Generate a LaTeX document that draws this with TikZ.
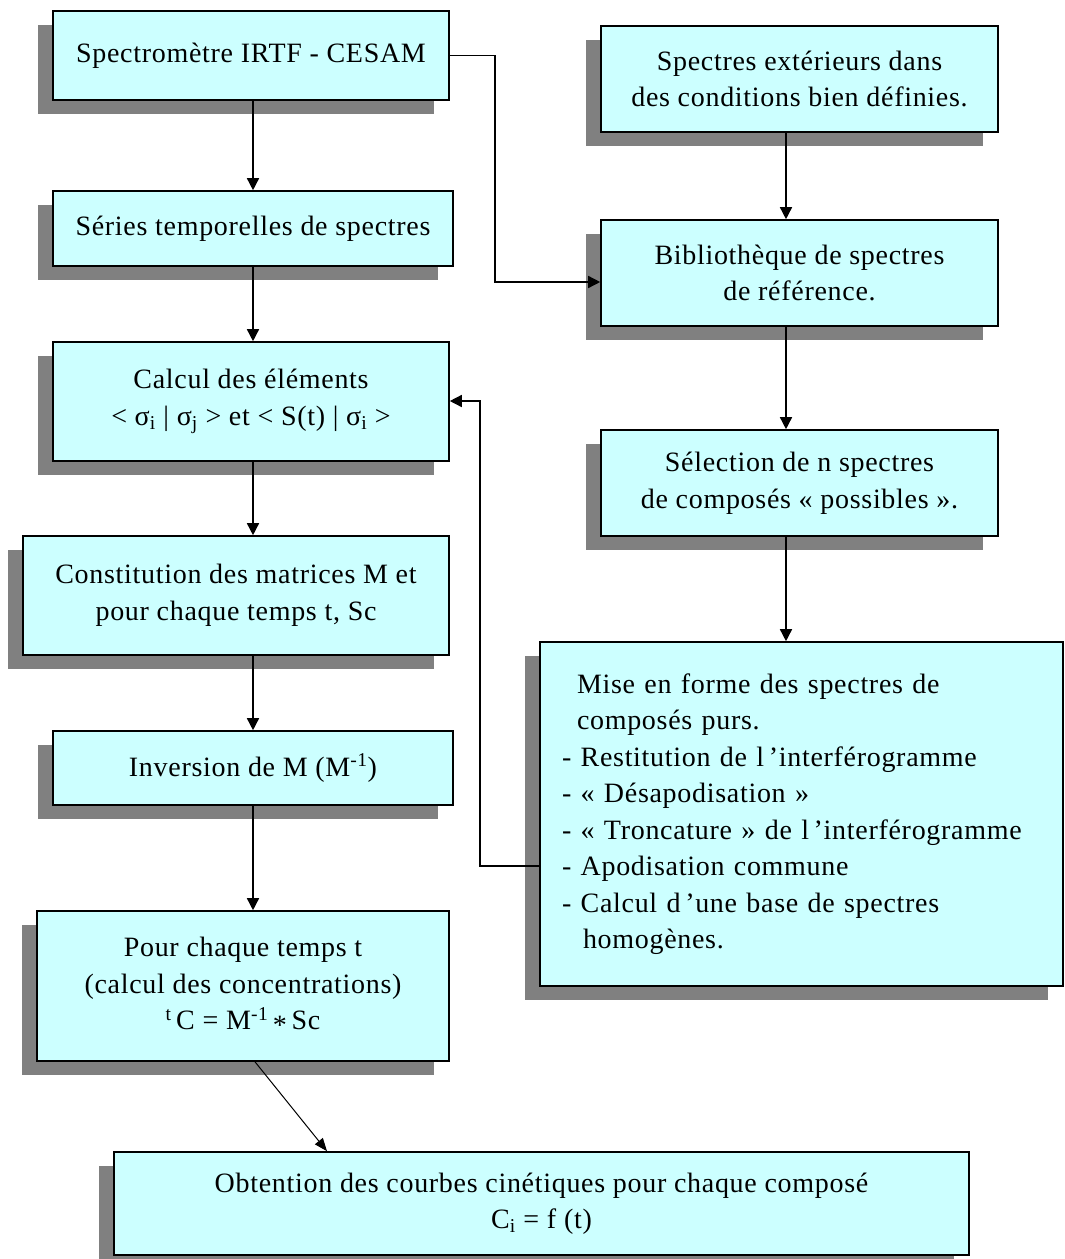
\documentclass[tikz,border=0pt]{standalone}
\usepackage{fontspec}
\setmainfont{Liberation Serif}[LetterSpace=2.5]
\usetikzlibrary{arrows.meta,shadows}
\definecolor{boxfill}{RGB}{204,255,255}
\definecolor{shadowgray}{RGB}{128,128,128}
\begin{document}
\begin{tikzpicture}[x=1pt,y=-1pt,
  box/.style={draw=black, line width=1.6pt, fill=boxfill, inner sep=0pt, align=center,
    font=\fontsize{28}{36.5}\selectfont,
    general shadow={fill=shadowgray, shadow xshift=-15pt, shadow yshift=-14pt}},
  arr/.style={line width=1.5pt, -{Triangle[width=12pt,length=12pt]}},
  thinarr/.style={line width=1pt, -{Triangle[width=10pt,length=13pt]}}]
\useasboundingbox (0,0) rectangle (1065,1259);
\fill[white] (0,0) rectangle (1065,1259);

% left column
\node[box, minimum width=396pt, minimum height=89pt] (n1) at (251,55.5) {Spectromètre IRTF - CESAM};
\node[box, minimum width=400pt, minimum height=75pt] (n2) at (253,228.5) {Séries temporelles de spectres};
\node[box, minimum width=396pt, minimum height=119pt] (n3) at (251,401.5)
  {Calcul des éléments\\< σ\textsubscript{i} | σ\textsubscript{j} > et < S(t) | σ\textsubscript{i} >};
\node[box, minimum width=426pt, minimum height=119pt] (n4) at (236,595.5)
  {Constitution des matrices M et\\pour chaque temps t, Sc};
\node[box, minimum width=400pt, minimum height=74pt] (n5) at (253,768) {Inversion de M (M\textsuperscript{-1})};
\node[box, minimum width=412pt, minimum height=150pt] (n6) at (243,986)
  {Pour chaque temps t\\(calcul des concentrations)\\\textsuperscript{t}\,C = M\textsuperscript{-1}\,\raisebox{-0.35ex}{*}\,Sc};
\node[box, minimum width=855pt, minimum height=103pt] (n7) at (541.5,1203.5)
  {Obtention des courbes cinétiques pour chaque composé\\C\textsubscript{i} = f (t)};

% right column
\node[box, minimum width=397pt, minimum height=106pt] (r1) at (799.5,79)
  {Spectres extérieurs dans\\des conditions bien définies.};
\node[box, minimum width=397pt, minimum height=106pt] (r2) at (799.5,273)
  {Bibliothèque de spectres\\de référence.};
\node[box, minimum width=397pt, minimum height=106pt] (r3) at (799.5,483)
  {Sélection de n spectres\\de composés « possibles ».};
\node[box, align=left, inner xsep=22pt, text width=479pt, minimum height=344pt] (r4) at (801.5,814)
  {\hspace*{15pt}Mise en forme des spectres de\\
   \hspace*{15pt}composés purs.\\
   - Restitution de l\,’interférogramme\\
   - « Désapodisation »\\
   - « Troncature » de l\,’interférogramme\\
   - Apodisation commune\\
   - Calcul d\,’une base de spectres\\
   \hspace*{21pt}homogènes.};

% helper coordinates
\coordinate (lc) at (253,0);
\coordinate (rc) at (786,0);
\coordinate (k1) at (495,282);
\coordinate (k2) at (480,866);
\coordinate (k3) at (480,401);

% left column connectors
\draw[arr] (n1.south -| lc) -- (n2.north -| lc);
\draw[arr] (n2.south -| lc) -- (n3.north -| lc);
\draw[arr] (n3.south -| lc) -- (n4.north -| lc);
\draw[arr] (n4.south -| lc) -- (n5.north -| lc);
\draw[arr] (n5.south -| lc) -- (n6.north -| lc);
\draw[thinarr] ([xshift=12pt]n6.south) -- ([xshift=-214.5pt]n7.north);

% right column connectors
\draw[arr] (r1.south -| rc) -- (r2.north -| rc);
\draw[arr] (r2.south -| rc) -- (r3.north -| rc);
\draw[arr] (r3.south -| rc) -- (r4.north -| rc);

% cross connectors
\draw[arr] (n1.east) -| (k1) -- (k1 -| r2.west);
\draw[arr] (k2 -| r4.west) -- (k2) -- (k3) -- (k3 -| n3.east);
\end{tikzpicture}
\end{document}
